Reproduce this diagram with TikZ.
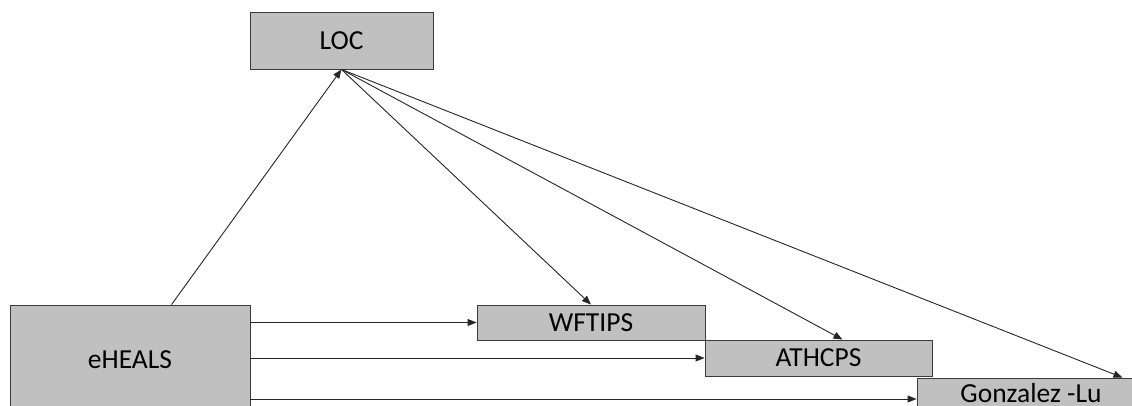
\documentclass[tikz,border=0pt]{standalone}
\usepackage{fontspec}
\setmainfont{Carlito}
\usetikzlibrary{arrows.meta,calc}
\definecolor{boxfill}{HTML}{C0C0C0}
\definecolor{boxline}{HTML}{3A3A3A}
\tikzset{
  var/.style={draw=boxline, line width=0.9pt, fill=boxfill, rectangle, inner sep=0pt,
    font=\fontsize{27.5}{32}\selectfont, text=black},
  link/.style={draw=black!85, line width=0.9pt, -{Triangle[length=9pt,width=7pt]}},
}
\begin{document}
\begin{tikzpicture}[x=1pt,y=-1pt]
  \useasboundingbox (0,0) rectangle (1132,406);
  \clip (0,0) rectangle (1132,406);
  \fill[white] (0,0) rectangle (1132,406);

  % variables
  \node[var, minimum width=183pt, minimum height=57pt] (loc) at (341.5,40.5) {LOC};
  \node[var, minimum width=240pt, minimum height=110pt] (eh) at (130,360) {eHEALS};
  \node[var, minimum width=228pt, minimum height=35pt] (wf) at (591,322.5) {WFTIPS};
  \node[var, minimum width=227pt, minimum height=36pt] (at) at (818.5,358) {ATHCPS};
  \node[var, minimum width=228pt, minimum height=30pt] (gl) at (1031,393) {Gonzalez -Lu};

  % points where the paths leave and enter the boxes
  \coordinate (ehtop) at ($(eh.north west)+(162,0)$);
  \coordinate (eh1) at (eh.east |- wf.west);
  \coordinate (eh2) at (eh.east |- at.west);
  \coordinate (eh3) at ($(eh.east |- gl.west)+(0,6)$);
  \coordinate (gl3) at ($(gl.west)+(0,6)$);
  \coordinate (gltop) at ($(gl.north east)+(-23,0)$);

  % paths
  \draw[link] (ehtop) -- (loc.south);
  \draw[link] (loc.south) -- (wf.north);
  \draw[link] (loc.south) -- ($(at.north)+(24,0)$);
  \draw[link] (loc.south) -- (gltop);
  \draw[link] (eh1) -- (wf.west);
  \draw[link] (eh2) -- (at.west);
  \draw[link] (eh3) -- (gl3);
\end{tikzpicture}
\end{document}
